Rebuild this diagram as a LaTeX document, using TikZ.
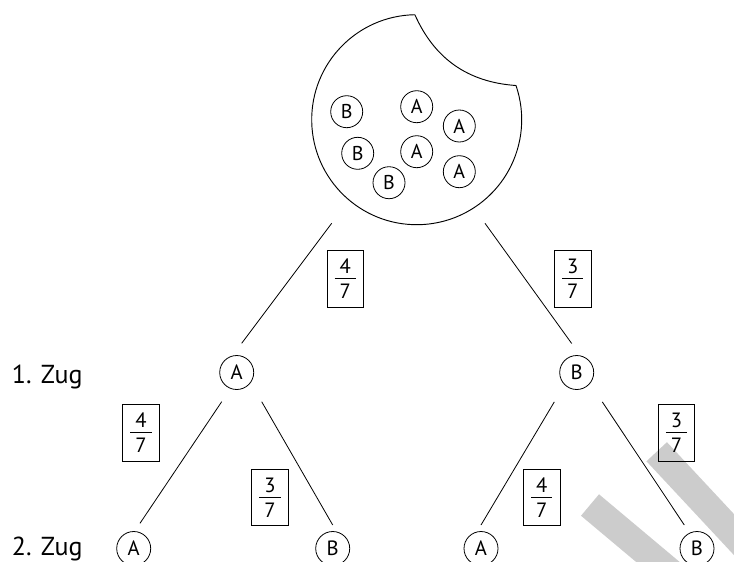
\documentclass[tikz,border=0pt]{standalone}
\usepackage{fontspec}
\setmainfont{PT Sans}
\usetikzlibrary{calc}
\newcommand{\bruch}[2]{\vbox{\hbox to 16pt{\hss#1\hss}\kern3.3pt\hrule height0.6pt\kern3.6pt\hbox to 16pt{\hss#2\hss}}}

\begin{document}
\begin{tikzpicture}[x=0.75pt,y=-0.75pt,kugel/.style={draw,circle,line width=0.6pt,minimum size=24pt,inner sep=0pt,font=\fontsize{15}{15}\selectfont},zug/.style={draw,circle,line width=0.6pt,minimum size=25.5pt,inner sep=0pt,font=\fontsize{15.5}{15.5}\selectfont},wkt/.style={draw,line width=0.6pt,minimum width=27.5pt,minimum height=42.5pt,inner sep=0pt,font=\fontsize{15.5}{15.5}\selectfont},zweig/.style={line width=0.6pt},stufe/.style={anchor=base west,inner sep=0pt,font=\fontsize{19.5}{19.5}\selectfont},marke/.style={line width=21pt,black!20}]
\useasboundingbox (0,0) rectangle (734,561);
\draw[marke] (590,505) -- ++(40:110);
\draw[marke] (656.7,451.7) -- ++(47:160);
\coordinate (urne) at (416.7,119.7);
\coordinate (oben) at ($(urne)+(-91:105)$);
\draw[line width=0.7pt] (oben) arc[start angle=-91,end angle=-379,radius=105] to[bend left=31] (oben);
\node[kugel] (kb1) at (346.7,111.7) {B};
\node[kugel] (ka1) at (416.7,106.7) {A};
\node[kugel] (ka2) at (459.3,126) {A};
\node[kugel] (kb2) at (357.7,153.3) {B};
\node[kugel] (ka3) at (416.7,151.7) {A};
\node[kugel] (ka4) at (459.3,171.7) {A};
\node[kugel] (kb3) at (389,182.7) {B};
\node[stufe] (z1) at (11.7,383.3) {1. Zug};
\node[stufe] (z2) at (11.7,555.5) {2. Zug};
\node[zug] (a) at (236.7,372.5) {A};
\node[zug] (b) at (576.7,372.5) {B};
\node[zug] (aa) at (133.7,548.5) {A};
\node[zug] (ab) at (332.7,548.5) {B};
\node[zug] (ba) at (481,548.5) {A};
\node[zug] (bb) at (697,548.5) {B};
\node[wkt] (w1) at (345.3,278.7) {\bruch{4}{7}};
\node[wkt] (w2) at (572.7,278.7) {\bruch{3}{7}};
\node[wkt] (w3) at (141,432.7) {\bruch{4}{7}};
\node[wkt] (w4) at (270,497.5) {\bruch{3}{7}};
\node[wkt] (w5) at (541.8,497.5) {\bruch{4}{7}};
\node[wkt] (w6) at (676.5,432.7) {\bruch{3}{7}};
\draw[zweig] ($(urne)+(-85,103.6)$) -- ($(a)+(5,-29.2)$);
\draw[zweig] ($(urne)+(68.3,103.6)$) -- ($(b)+(-5,-29)$);
\draw[zweig] ($(a)+(-15,29.2)$) -- ($(aa)+(6.3,-25.2)$);
\draw[zweig] ($(a)+(25,29.2)$) -- ($(ab)+(0,-23.5)$);
\draw[zweig] ($(b)+(-22.4,29.4)$) -- ($(ba)+(0,-23.5)$);
\draw[zweig] ($(b)+(25.6,29.4)$) -- ($(bb)+(-12.7,-23.5)$);
\end{tikzpicture}
\end{document}
